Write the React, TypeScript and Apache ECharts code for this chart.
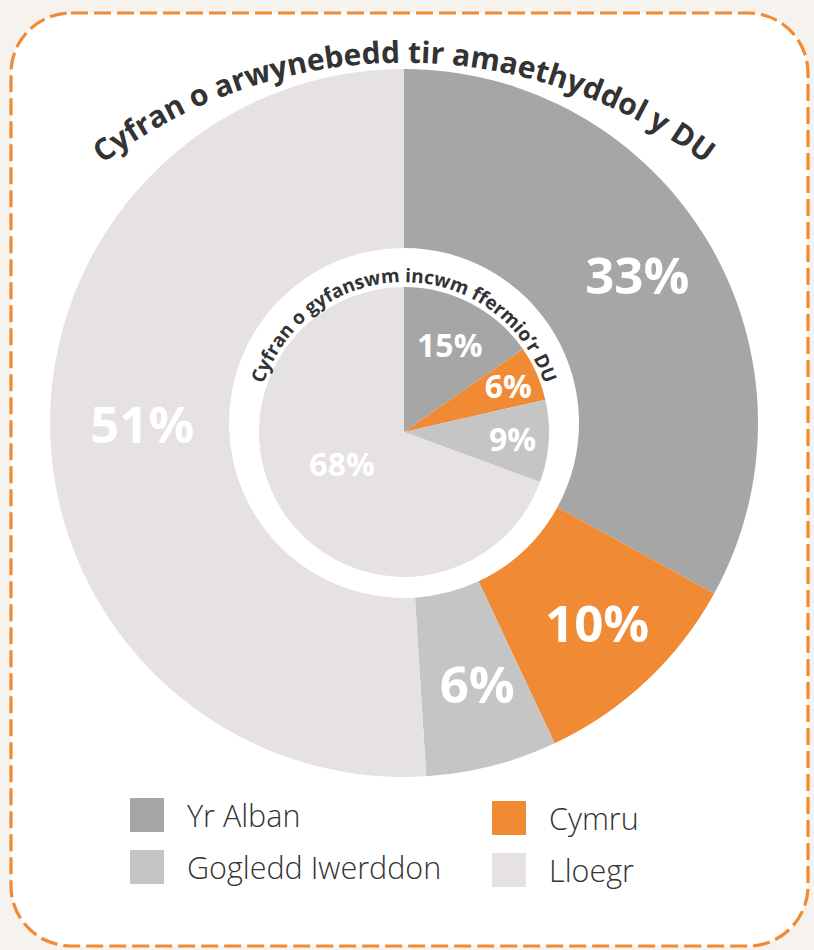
import React, { useEffect, useRef } from "react";
import * as echarts from "echarts";

const categories = ["Yr Alban", "Cymru", "Gogledd Iwerddon", "Lloegr"];
const landShare = [33, 10, 6, 51];
const incomeShare = [15, 6, 9, 68];
const sliceColors = ["#a6a6a6", "#f18a34", "#c5c5c5", "#e6e2e1"];
const outerTitle = "Cyfran o arwynebedd tir amaethyddol y DU";
const innerTitle = "Cyfran o gyfanswm incwm ffermio’r DU";
const legendLeft = ["Yr Alban", "Gogledd Iwerddon"];
const legendRight = ["Cymru", "Lloegr"];

const FONT = '"Open Sans", "Noto Sans", sans-serif';

function arcText(text: string, cx: number, cy: number, rb: number, fs: number, color: string) {
  const ctx = document.createElement("canvas").getContext("2d") as CanvasRenderingContext2D;
  ctx.font = `bold ${fs}px "Open Sans"`;
  const total = ctx.measureText(text).width;
  const rMid = rb + 0.36 * fs;
  const els: any[] = [];
  for (let i = 0; i < text.length; i++) {
    const ch = text[i];
    if (ch === " ") continue;
    const a = ctx.measureText(text.slice(0, i)).width;
    const b = ctx.measureText(text.slice(0, i + 1)).width;
    const s = (a + b) / 2 - total / 2;
    const phi = Math.PI / 2 - s / rb;
    els.push({
      type: "text",
      x: cx + rMid * Math.cos(phi),
      y: cy - rMid * Math.sin(phi),
      rotation: phi - Math.PI / 2,
      z: 100,
      style: {
        text: ch,
        fill: color,
        fontSize: fs,
        fontWeight: "bold",
        fontFamily: FONT,
        align: "center",
        verticalAlign: "middle",
        textAlign: "center",
        textVerticalAlign: "middle",
      },
    });
  }
  return els;
}

// radial push of an 'inside' label plus a small nudge
function labelShift(cx: number, cy: number, ks: number[], nudges: number[][]) {
  return (params: any) => {
    const r = params.labelRect;
    const lx = r.x + r.width / 2;
    const ly = r.y + r.height / 2;
    const k = ks[params.dataIndex] ?? 1;
    const n = nudges[params.dataIndex] ?? [0, 0];
    return { dx: (lx - cx) * (k - 1) + n[0], dy: (ly - cy) * (k - 1) + n[1] };
  };
}

export default function App() {
  const ref = useRef<HTMLDivElement>(null);
  useEffect(() => {
    const chart = echarts.init(ref.current!, undefined, { renderer: "svg" });
    const outerData = categories.map((name, i) => ({
      name,
      value: landShare[i],
      itemStyle: { color: sliceColors[i] },
    }));
    const innerData = categories.map((name, i) => ({
      name,
      value: incomeShare[i],
      itemStyle: { color: sliceColors[i] },
    }));
    const legendCommon = {
      orient: "vertical",
      icon: "rect",
      itemWidth: 34,
      itemHeight: 34,
      itemGap: 18,
      padding: 0,
      selectedMode: false,
      textStyle: {
        fontFamily: FONT,
        fontSize: 30.5,
        fontWeight: 300,
        color: "#333333",
        padding: [0, 0, 0, 18],
      },
    };
    chart.setOption({
      animation: false,
      backgroundColor: "#f6f3ef",
      color: sliceColors,
      legend: [
        { ...legendCommon, left: 130, top: 798, data: legendLeft },
        { ...legendCommon, left: 492, top: 801, data: legendRight },
      ],
      graphic: [
        {
          type: "rect",
          z: -10,
          shape: { x: 11, y: 13, width: 797, height: 933, r: 60 },
          style: { fill: "#ffffff", stroke: "#f18a34", lineWidth: 3.2, lineDash: [17, 6] },
        },
        ...arcText(outerTitle, 404, 562, 500, 30, "#333333"),
        ...arcText(innerTitle, 404, 430, 148, 19, "#333333"),
      ],
      series: [
        {
          type: "pie",
          name: "land",
          center: [404, 423],
          radius: [175, 354],
          startAngle: 90,
          clockwise: true,
          silent: true,
          itemStyle: { borderWidth: 0 },
          label: {
            show: true,
            position: "inside",
            formatter: "{c}%",
            color: "#ffffff",
            fontFamily: FONT,
            fontSize: 51,
            fontWeight: "bold",
          },
          labelLine: { show: false },
          labelLayout: labelShift(404, 423, [1.035, 1.055, 1.025, 0.99], [[-5, -8], [0, -7], [5, -6], [3, -8]]),
          data: outerData,
        },
        {
          type: "pie",
          name: "income",
          center: [404, 432],
          radius: [0, 145],
          startAngle: 90,
          clockwise: true,
          silent: true,
          itemStyle: { borderWidth: 0 },
          label: {
            show: true,
            position: "inside",
            formatter: "{c}%",
            color: "#ffffff",
            fontFamily: FONT,
            fontSize: 32,
            fontWeight: "bold",
          },
          labelLine: { show: false },
          labelLayout: labelShift(404, 432, [1.31, 1.51, 1.44, 1.0], [[0, 0], [0, 0], [0, 0], [0, -12]]),
          data: innerData,
        },
      ],
    });
    return () => chart.dispose();
  }, []);
  return (
    <div
      ref={ref}
      style={{ position: "fixed", left: 0, top: 0, width: 814, height: 950 }}
    />
  );
}
